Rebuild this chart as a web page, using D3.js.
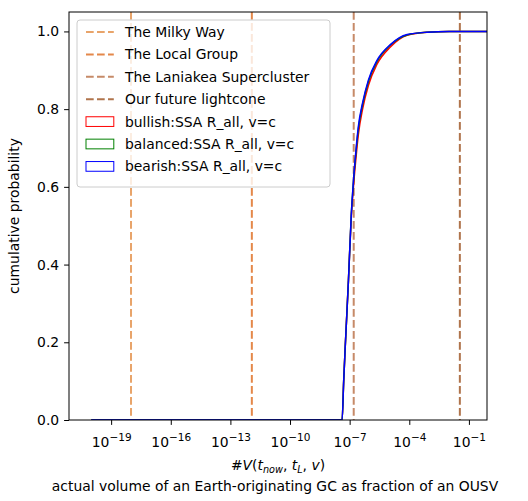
<!DOCTYPE html>
<html>
<head>
<meta charset="utf-8">
<script src="https://cdn.jsdelivr.net/npm/d3@7"></script>
<style>
  body { margin: 0; background: #fff; }
  text { font-family: "DejaVu Sans", sans-serif; fill: #000; }
</style>
</head>
<body>
<div id="vis"></div>
<script>
// data
var markerNames = ["The Milky Way", "The Local Group", "The Laniakea Supercluster", "Our future lightcone"];
var markerVals = [1.0e-18, 1.2e-12, 1.6e-7, 3.5e-2];
var markerColors = ["#e8a46a", "#e4884a", "#c68a68", "#b0744c"];

var seriesNames = ["bullish:SSA R_all, v=c", "balanced:SSA R_all, v=c", "bearish:SSA R_all, v=c"];
var seriesColors = ["red", "green", "blue"];

// x values (volume fraction) shared by all three cdfs
var volX = [1e-20, 4.17e-8, 5.01e-8, 5.89e-8, 8.71e-8, 1.20e-7, 1.55e-7, 2.04e-7, 2.75e-7, 4.47e-7, 8.91e-7, 2.34e-6, 1.12e-5, 7.76e-5, 7.94e-4, 1e-2, 3];
var bullish  = [0, 0, 0.10, 0.18, 0.36, 0.52, 0.60, 0.67, 0.735, 0.80, 0.862, 0.915, 0.96, 0.99, 0.998, 1.0, 1.0];
var balanced = [0, 0, 0.10, 0.18, 0.36, 0.525, 0.612, 0.685, 0.75, 0.812, 0.872, 0.922, 0.965, 0.991, 0.998, 1.0, 1.0];
var bearish  = [0, 0, 0.10, 0.18, 0.36, 0.525, 0.615, 0.69, 0.756, 0.816, 0.876, 0.925, 0.966, 0.992, 0.998, 1.0, 1.0];

var xTicks = [1e-19, 1e-16, 1e-13, 1e-10, 1e-7, 1e-4, 1e-1];
var yTicks = [0, 0.2, 0.4, 0.6, 0.8, 1.0];

// drawing area
var svgW = 528, svgH = 501;
var plotL = 69, plotR = 487, plotT = 12, plotB = 420;

var svg = d3.select('#vis').append('svg').attr('width', svgW).attr('height', svgH);

var x = d3.scaleLog().domain([Math.pow(10, -21.12), Math.pow(10, -0.09)]).range([plotL, plotR]);
var y = d3.scaleLinear().domain([0, 1.05]).range([plotB, plotT]);

svg.append('clipPath').attr('id', 'plotclip')
  .append('rect').attr('x', plotL).attr('y', plotT).attr('width', plotR - plotL).attr('height', plotB - plotT);

var plot = svg.append('g').attr('clip-path', 'url(#plotclip)');

// vertical dashed markers
plot.selectAll('.marker').data(markerVals).enter().append('line')
  .attr('class', 'marker')
  .attr('x1', function(d){ return x(d); }).attr('x2', function(d){ return x(d); })
  .attr('y1', plotT).attr('y2', plotB)
  .attr('stroke', function(d, i){ return markerColors[i]; })
  .attr('stroke-width', 2)
  .attr('stroke-dasharray', '7.7,3.3');

// cdf lines
var allSeries = [bullish, balanced, bearish];
var line = d3.line()
  .x(function(d){ return x(d[0]); })
  .y(function(d){ return y(d[1]); })
  .curve(d3.curveMonotoneX);

allSeries.forEach(function(vals, i){
  var pts = volX.map(function(v, j){ return [v, vals[j]]; });
  plot.append('path').datum(pts)
    .attr('d', line)
    .attr('fill', 'none')
    .attr('stroke', seriesColors[i])
    .attr('stroke-width', 1.5);
});

// axes
var xAxis = svg.append('g').attr('transform', 'translate(0,' + plotB + ')')
  .call(d3.axisBottom(x).tickValues(xTicks).tickSize(4.9).tickPadding(4.9).tickFormat(''));
var yAxis = svg.append('g').attr('transform', 'translate(' + plotL + ',0)')
  .call(d3.axisLeft(y).tickValues(yTicks).tickSize(4.9).tickPadding(4.9).tickFormat(d3.format('.1f')));

[xAxis, yAxis].forEach(function(a){
  a.select('.domain').remove();
  a.selectAll('.tick line').attr('stroke', '#000').attr('stroke-width', 1);
  a.selectAll('.tick text').style('font-size', '13.9px').attr('fill', '#000');
});

// log tick labels as 10^n
xAxis.selectAll('.tick text').each(function(d){
  var t = d3.select(this).text('').attr('y', 27).attr('dy', null);
  var e = Math.round(Math.log10(d));
  t.append('tspan').text('10');
  t.append('tspan').attr('dy', -6.5).style('font-size', '10.5px').text('\u2212' + Math.abs(e));
});

// frame
svg.append('rect').attr('x', plotL).attr('y', plotT).attr('width', plotR - plotL).attr('height', plotB - plotT)
  .attr('fill', 'none').attr('stroke', '#000').attr('stroke-width', 1);

// labels
svg.append('text').attr('transform', 'translate(19,216) rotate(-90)')
  .attr('text-anchor', 'middle').style('font-size', '13.9px').text('cumulative probability');

var xl = svg.append('text').attr('x', (plotL + plotR) / 2).attr('y', 470)
  .attr('text-anchor', 'middle').style('font-size', '13.9px');
xl.append('tspan').text('#');
xl.append('tspan').style('font-style', 'italic').text('V');
xl.append('tspan').text('(');
xl.append('tspan').style('font-style', 'italic').text('t');
xl.append('tspan').style('font-style', 'italic').style('font-size', '9.7px').attr('dy', 2.5).text('now');
xl.append('tspan').attr('dy', -2.5).text(', ');
xl.append('tspan').style('font-style', 'italic').text('t');
xl.append('tspan').style('font-style', 'italic').style('font-size', '9.7px').attr('dy', 2.5).text('L');
xl.append('tspan').attr('dy', -2.5).text(', ');
xl.append('tspan').style('font-style', 'italic').text('v');
xl.append('tspan').text(')');

svg.append('text').attr('x', 275).attr('y', 491)
  .attr('text-anchor', 'middle').style('font-size', '13.9px')
  .text('actual volume of an Earth-originating GC as fraction of an OUSV');

// legend
var lg = svg.append('g');
lg.append('rect').attr('x', 77).attr('y', 20).attr('width', 253).attr('height', 167)
  .attr('rx', 3).attr('fill', 'rgba(255,255,255,0.8)').attr('stroke', '#cccccc');

var rowY = function(i){ return 32 + i * 22.4; };

markerNames.forEach(function(name, i){
  lg.append('line').attr('x1', 86).attr('x2', 113.8).attr('y1', rowY(i)).attr('y2', rowY(i))
    .attr('stroke', markerColors[i]).attr('stroke-width', 2).attr('stroke-dasharray', '7.7,3.3');
  lg.append('text').attr('x', 125).attr('y', rowY(i) + 5).style('font-size', '13.9px').text(name);
});
seriesNames.forEach(function(name, i){
  var r = rowY(i + markerNames.length);
  lg.append('rect').attr('x', 86).attr('y', r - 4.85).attr('width', 27.8).attr('height', 9.7)
    .attr('fill', 'none').attr('stroke', seriesColors[i]).attr('stroke-width', 1);
  lg.append('text').attr('x', 125).attr('y', r + 5).style('font-size', '13.9px').text(name);
});
</script>
</body>
</html>
